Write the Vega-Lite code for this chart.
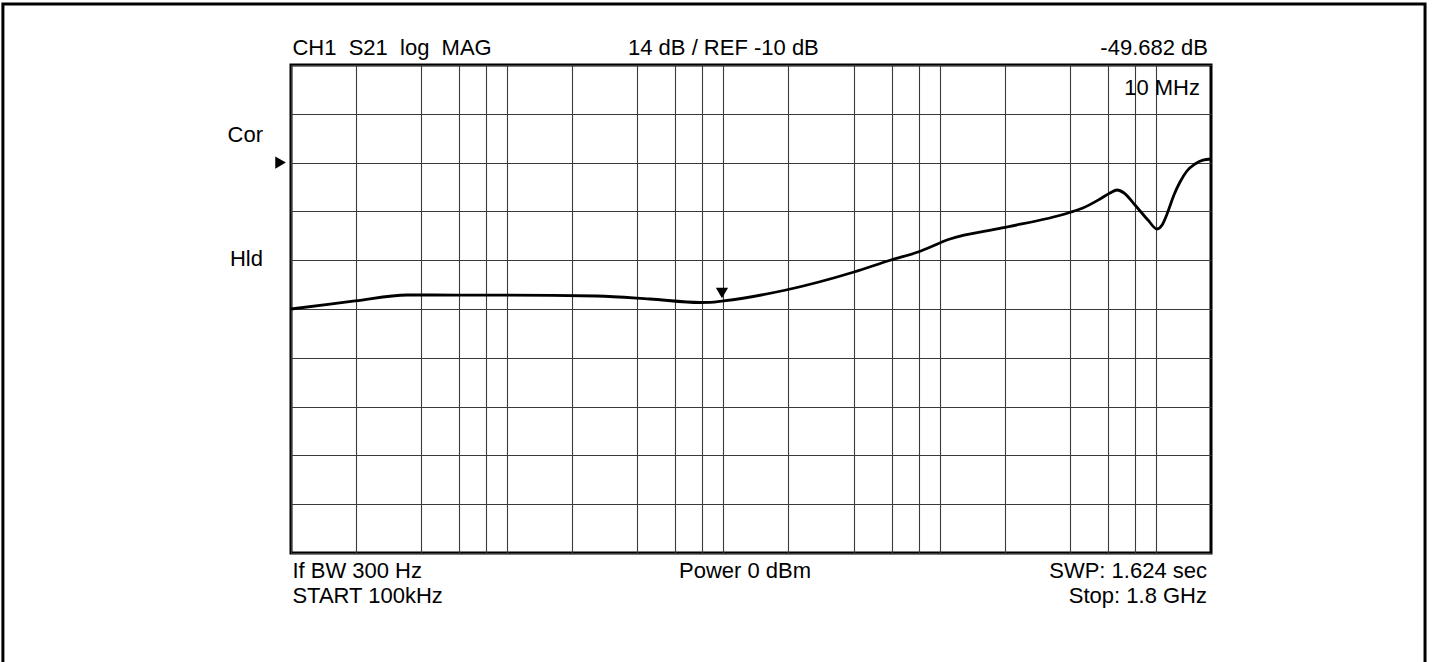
{
  "$schema": "https://vega.github.io/schema/vega-lite/v6.json",
  "width": 920,
  "height": 488,
  "autosize": {"type": "none"},
  "padding": {"left": 291, "top": 65, "right": 222, "bottom": 109},
  "background": "white",
  "config": {
    "view": {"stroke": "black", "strokeWidth": 3},
    "font": "Liberation Sans",
    "text": {"font": "Liberation Sans", "fontSize": 22, "color": "black"}
  },
  "datasets": {
    "one": [{}],
    "trace": [
      {"freq": 100000, "db": -52.0},
      {"freq": 151500, "db": -50.57},
      {"freq": 197700, "db": -49.7},
      {"freq": 344000, "db": -47.98},
      {"freq": 600000, "db": -48.0},
      {"freq": 977000, "db": -48.0},
      {"freq": 2600000, "db": -48.27},
      {"freq": 4570000, "db": -49.13},
      {"freq": 7800000, "db": -50.14},
      {"freq": 8670000, "db": -50.1},
      {"freq": 10000000, "db": -49.68},
      {"freq": 19480000, "db": -46.55},
      {"freq": 40200000, "db": -41.39},
      {"freq": 59600000, "db": -37.94},
      {"freq": 79400000, "db": -35.65},
      {"freq": 111700000, "db": -31.92},
      {"freq": 194400000, "db": -28.76},
      {"freq": 393000000, "db": -24.46},
      {"freq": 460000000, "db": -23.03},
      {"freq": 552000000, "db": -20.44},
      {"freq": 614000000, "db": -18.72},
      {"freq": 662000000, "db": -17.86},
      {"freq": 713000000, "db": -18.72},
      {"freq": 801000000, "db": -22.17},
      {"freq": 920000000, "db": -26.47},
      {"freq": 1013000000, "db": -29.05},
      {"freq": 1069000000, "db": -27.9},
      {"freq": 1127000000, "db": -24.75},
      {"freq": 1213000000, "db": -19.3},
      {"freq": 1294000000, "db": -15.57},
      {"freq": 1393000000, "db": -12.41},
      {"freq": 1518000000, "db": -10.4},
      {"freq": 1652000000, "db": -9.26},
      {"freq": 1800000000, "db": -8.97}
    ]
  },
  "layer": [
    {
      "data": {"name": "trace"},
      "mark": {"type": "line", "color": "black", "strokeWidth": 2.8, "interpolate": "monotone"},
      "encoding": {
        "x": {
          "field": "freq", "type": "quantitative",
          "scale": {"type": "log", "domain": [100000, 1800000000], "nice": false},
          "axis": {
            "values": [100000, 200000, 400000, 600000, 800000, 1000000, 2000000, 4000000, 6000000, 8000000, 10000000, 20000000, 40000000, 60000000, 80000000, 100000000, 200000000, 400000000, 600000000, 800000000, 1000000000],
            "grid": true, "gridColor": "#3a3a3a", "gridWidth": 1.1, "gridOpacity": 1,
            "labels": false, "ticks": false, "domain": false, "title": null
          }
        },
        "y": {
          "field": "db", "type": "quantitative",
          "scale": {"domain": [-122, 18], "nice": false, "zero": false},
          "axis": {
            "values": [-122, -108, -94, -80, -66, -52, -38, -24, -10, 4, 18],
            "grid": true, "gridColor": "#3a3a3a", "gridWidth": 1.1, "gridOpacity": 1,
            "labels": false, "ticks": false, "domain": false, "title": null
          }
        }
      }
    },
    {
      "data": {"name": "one"},
      "mark": {"type": "rect", "fill": null, "fillOpacity": 0, "stroke": "black", "strokeWidth": 3},
      "encoding": {
        "x": {"datum": 4650, "type": "quantitative"},
        "x2": {"datum": 17590000000},
        "y": {"datum": 35.5, "type": "quantitative"},
        "y2": {"datum": -164}
      }
    },
    {
      "data": {"name": "one"},
      "mark": {"type": "point", "shape": "triangle-down", "filled": true, "color": "black", "size": 150, "opacity": 1},
      "encoding": {
        "x": {"datum": 9850000, "type": "quantitative"},
        "y": {"datum": -47.4, "type": "quantitative"}
      }
    },
    {
      "data": {"name": "one"},
      "mark": {"type": "point", "shape": "triangle-right", "filled": true, "color": "black", "size": 150, "opacity": 1},
      "encoding": {
        "x": {"datum": 89500, "type": "quantitative"},
        "y": {"datum": -10, "type": "quantitative"}
      }
    },
    {
      "data": {"name": "one"},
      "mark": {"type": "text", "text": "CH1\u00a0 S21\u00a0 log\u00a0 MAG", "align": "left", "baseline": "alphabetic"},
      "encoding": {
        "x": {"datum": 101500, "type": "quantitative"},
        "y": {"datum": 20.87, "type": "quantitative"}
      }
    },
    {
      "data": {"name": "one"},
      "mark": {"type": "text", "text": "14 dB / REF -10 dB", "align": "center", "baseline": "alphabetic"},
      "encoding": {
        "x": {"datum": 10000000, "type": "quantitative"},
        "y": {"datum": 20.87, "type": "quantitative"}
      }
    },
    {
      "data": {"name": "one"},
      "mark": {"type": "text", "text": "-49.682 dB", "align": "right", "baseline": "alphabetic"},
      "encoding": {
        "x": {"datum": 1743000000, "type": "quantitative"},
        "y": {"datum": 20.87, "type": "quantitative"}
      }
    },
    {
      "data": {"name": "one"},
      "mark": {"type": "text", "text": "10 MHz", "align": "right", "baseline": "alphabetic"},
      "encoding": {
        "x": {"datum": 1601000000, "type": "quantitative"},
        "y": {"datum": 9.4, "type": "quantitative"}
      }
    },
    {
      "data": {"name": "one"},
      "mark": {"type": "text", "text": "Cor", "align": "right", "baseline": "alphabetic"},
      "encoding": {
        "x": {"datum": 74200, "type": "quantitative"},
        "y": {"datum": -4.1, "type": "quantitative"}
      }
    },
    {
      "data": {"name": "one"},
      "mark": {"type": "text", "text": "Hld", "align": "right", "baseline": "alphabetic"},
      "encoding": {
        "x": {"datum": 74200, "type": "quantitative"},
        "y": {"datum": -39.7, "type": "quantitative"}
      }
    },
    {
      "data": {"name": "one"},
      "mark": {"type": "text", "text": "If BW 300 Hz", "align": "left", "baseline": "alphabetic"},
      "encoding": {
        "x": {"datum": 101500, "type": "quantitative"},
        "y": {"datum": -129.17, "type": "quantitative"}
      }
    },
    {
      "data": {"name": "one"},
      "mark": {"type": "text", "text": "START 100kHz", "align": "left", "baseline": "alphabetic"},
      "encoding": {
        "x": {"datum": 101500, "type": "quantitative"},
        "y": {"datum": -136.35, "type": "quantitative"}
      }
    },
    {
      "data": {"name": "one"},
      "mark": {"type": "text", "text": "Power 0 dBm", "align": "center", "baseline": "alphabetic"},
      "encoding": {
        "x": {"datum": 12590000, "type": "quantitative"},
        "y": {"datum": -129.17, "type": "quantitative"}
      }
    },
    {
      "data": {"name": "one"},
      "mark": {"type": "text", "text": "SWP: 1.624 sec", "align": "right", "baseline": "alphabetic"},
      "encoding": {
        "x": {"datum": 1725000000, "type": "quantitative"},
        "y": {"datum": -129.17, "type": "quantitative"}
      }
    },
    {
      "data": {"name": "one"},
      "mark": {"type": "text", "text": "Stop: 1.8 GHz", "align": "right", "baseline": "alphabetic"},
      "encoding": {
        "x": {"datum": 1725000000, "type": "quantitative"},
        "y": {"datum": -136.35, "type": "quantitative"}
      }
    }
  ]
}
